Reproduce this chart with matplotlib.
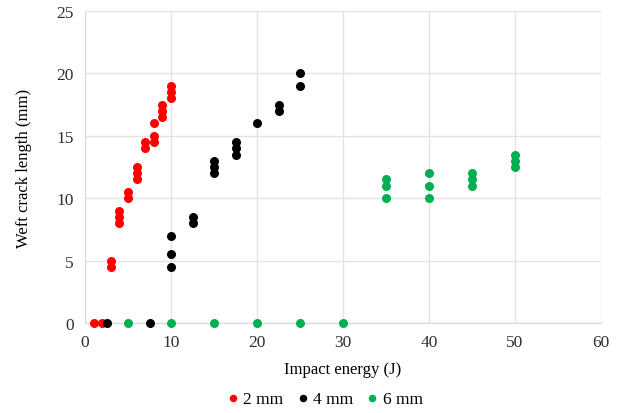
import numpy as np
import matplotlib.pyplot as plt

plt.rcParams['font.family'] = ['Liberation Serif', 'DejaVu Serif']

# 2 mm
x_2mm = [1, 2, 3, 3, 4, 4, 4, 5, 5, 6, 6, 6, 7, 7, 8, 8, 8, 9, 9, 9, 10, 10, 10]
y_2mm = [0, 0, 4.5, 5, 8, 8.5, 9, 10, 10.5, 11.5, 12, 12.5, 14, 14.5, 14.5, 15, 16,
         16.5, 17, 17.5, 18, 18.5, 19]
# 4 mm
x_4mm = [2.5, 7.5, 10, 10, 10, 12.5, 12.5, 15, 15, 15, 17.5, 17.5, 17.5, 20,
         22.5, 22.5, 25, 25]
y_4mm = [0, 0, 4.5, 5.5, 7, 8, 8.5, 12, 12.5, 13, 13.5, 14, 14.5, 16,
         17, 17.5, 19, 20]
# 6 mm
x_6mm = [5, 10, 15, 20, 25, 30, 35, 35, 35, 40, 40, 40, 45, 45, 45, 50, 50, 50]
y_6mm = [0, 0, 0, 0, 0, 0, 10, 11, 11.5, 10, 11, 12, 11, 11.5, 12, 12.5, 13, 13.5]

fig = plt.figure(figsize=(6.22, 4.14), dpi=100)
ax = fig.add_axes([85/622, 1 - 324/414, 516/622, 312/414])

ms = 30
ax.scatter(x_2mm, y_2mm, s=ms, color='#FF0000', label='2 mm', zorder=3)
ax.scatter(x_4mm, y_4mm, s=ms, color='#000000', label='4 mm', zorder=3)
ax.scatter(x_6mm, y_6mm, s=ms, color='#00B050', label='6 mm', zorder=3)

ax.set_xlim(0, 60)
ax.set_ylim(0, 25)
ax.set_xticks(np.arange(0, 61, 10))
ax.set_yticks(np.arange(0, 26, 5))
ax.grid(True, color='#E3E3E3', linewidth=1)
ax.set_axisbelow(True)
for s in ['top', 'right']:
    ax.spines[s].set_visible(False)
for s in ['left', 'bottom']:
    ax.spines[s].set_color('#D9D9D9')
ax.tick_params(length=0, labelsize=12.5, pad=8)
for lab in ax.get_xticklabels() + ax.get_yticklabels():
    lab.set_color('#303030')
ax.set_xlabel('Impact energy (J)', fontsize=12, labelpad=8)
ax.set_ylabel('Weft crack length (mm)', fontsize=12, labelpad=18)
for c in ax.collections:
    c.set_clip_on(False)

fig.legend(loc='center', bbox_to_anchor=(0.52, 0.034), ncol=3, frameon=False,
           fontsize=12.5, handletextpad=0.1, columnspacing=0.6, markerscale=0.8,
           handlelength=1.0)

fig.savefig('out.png', dpi=100)
